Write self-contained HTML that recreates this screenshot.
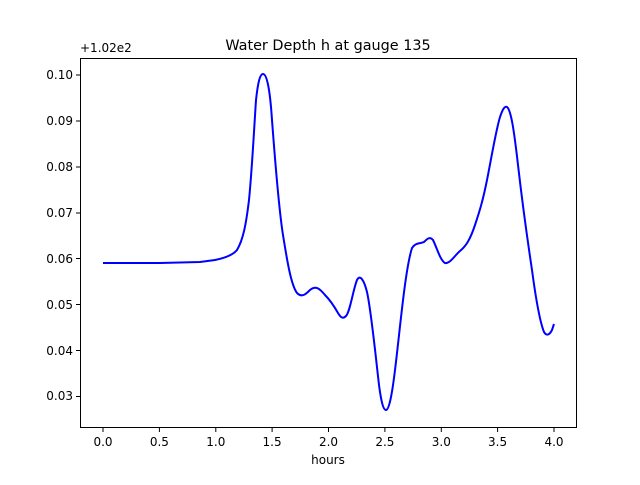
<!DOCTYPE html>
<html><head><meta charset="utf-8"><style>
body{margin:0;background:#fff;}
svg text{font-family:"DejaVu Sans","Liberation Sans",sans-serif;fill:#000;}
</style></head><body>
<svg width="640" height="480" viewBox="0 0 640 480" xmlns="http://www.w3.org/2000/svg">
<rect x="0" y="0" width="640" height="480" fill="#fff"/>
<path fill="none" stroke="#0000ff" stroke-width="2" stroke-linejoin="round" d="
M103,263 L160,263 L200,262 L215,260 C225,258 233,255 237,250 C243,240 246,225 249,200 C252,170 254,130 256,100 C258,82 260,74 263,74 C267,74 270,90 272,120 C275,160 279,210 283,235 C287,260 291,285 297,293 C302,298 306,294 310,290 C316,285 320,289 325,295 C330,300 334,306 338,313 C341,318 343,319 346,316 C350,312 353,290 357,280 C360,274 364,280 367,292 C371,310 375,350 379,385 C381,400 383,410 386,410 C389,410 392,395 395,370 C400,330 405,270 412,248 C416,242 420,244 424,242 C427,239 430,236 433,240 C437,248 440,260 445,263 C450,264 455,255 460,251 C466,246 470,240 475,225 C480,210 483,200 487,180 C491,160 496,130 500,117 C503,108 505,106 507,107 C511,110 514,130 518,165 C522,200 526,230 532,270 C536,300 540,322 544,332 C547,337 550,334 552,330 L554,324"/>
<rect x="80.5" y="58.5" width="496" height="369" fill="none" stroke="#000" stroke-width="1"/>
<g stroke="#000" stroke-width="1">
<line x1="103" y1="428" x2="103" y2="432"/><line x1="159.4" y1="428" x2="159.4" y2="432"/><line x1="215.8" y1="428" x2="215.8" y2="432"/><line x1="272.1" y1="428" x2="272.1" y2="432"/><line x1="328.5" y1="428" x2="328.5" y2="432"/><line x1="384.9" y1="428" x2="384.9" y2="432"/><line x1="441.3" y1="428" x2="441.3" y2="432"/><line x1="497.6" y1="428" x2="497.6" y2="432"/><line x1="554" y1="428" x2="554" y2="432"/>
<line x1="76" y1="75" x2="80" y2="75"/><line x1="76" y1="121" x2="80" y2="121"/><line x1="76" y1="167" x2="80" y2="167"/><line x1="76" y1="213" x2="80" y2="213"/><line x1="76" y1="258.5" x2="80" y2="258.5"/><line x1="76" y1="304.5" x2="80" y2="304.5"/><line x1="76" y1="350.5" x2="80" y2="350.5"/><line x1="76" y1="396.5" x2="80" y2="396.5"/>
</g>
<g font-size="12" text-anchor="middle">
<text x="103" y="446">0.0</text><text x="159.4" y="446">0.5</text><text x="215.8" y="446">1.0</text><text x="272.1" y="446">1.5</text><text x="328.5" y="446">2.0</text><text x="384.9" y="446">2.5</text><text x="441.3" y="446">3.0</text><text x="497.6" y="446">3.5</text><text x="554" y="446">4.0</text>
</g>
<g font-size="12" text-anchor="end">
<text x="73" y="79">0.10</text><text x="73" y="125">0.09</text><text x="73" y="171">0.08</text><text x="73" y="217">0.07</text><text x="73" y="263">0.06</text><text x="73" y="309">0.05</text><text x="73" y="355">0.04</text><text x="73" y="400">0.03</text>
</g>
<text x="80" y="52" font-size="12">+1.02e2</text>
<text x="328" y="464" font-size="12" text-anchor="middle">hours</text>
<text x="328" y="50" font-size="14.4" text-anchor="middle">Water Depth h at gauge 135</text>
</svg>
</body></html>
